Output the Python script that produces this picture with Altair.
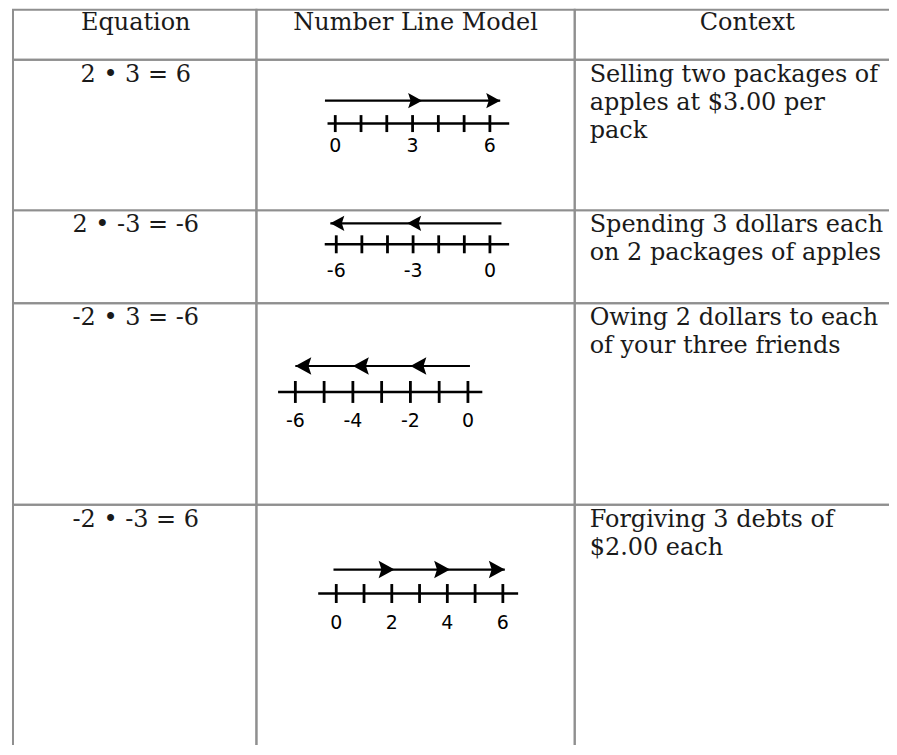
import altair as alt
import pandas as pd

# ---------------- data ----------------
headers = ["Equation", "Number Line Model", "Context"]
equations = ["2 • 3 = 6", "2 • -3 = -6", "-2 • 3 = -6", "-2 • -3 = 6"]
contexts = [
    "Selling two packages of\napples at $3.00 per\npack",
    "Spending 3 dollars each\non 2 packages of apples",
    "Owing 2 dollars to each\nof your three friends",
    "Forgiving 3 debts of\n$2.00 each",
]
tick_start = [0, -6, -6, 0]
tick_end = [6, 0, 0, 6]
tick_labels = [[0, 3, 6], [-6, -3, 0], [-6, -4, -2, 0], [0, 2, 4, 6]]
line_from = [-0.3, -6.45, -6.6, -0.65]
line_to = [6.75, 0.75, 0.5, 6.55]
shaft_from = [-0.4, 0.45, 0.07, -0.1]
shaft_to = [6.4, -6.23, -6.0, 6.07]
arrow_tips = [[3.37, 6.4], [-3.23, -6.23], [-2.0, -4.0, -6.0], [2.1, 4.1, 6.07]]

# ---------------- layout (pixels) ----------------
COL_W = [244, 319, 346]
ROW_H = [50, 151, 93, 202, 296]
NL_FIRST_PX = [79, 80, 39, 80]
NL_UNIT_PX = [25.83, 25.67, 28.83, 27.83]
NL_ARROW_Y = [41, 13, 63, 65]
NL_AXIS_Y = [64, 34, 89, 89]
NL_LABEL_Y = [86, 61, 118, 119]
NL_TICK_HALF = [8.5, 9, 11, 9.5]
NL_HEAD_LEN = [14, 14, 16, 16]

SERIF = "DejaVu Serif"
SANS = "DejaVu Sans"
TXT = "#1a1a1a"
FS = 24

RIGHT_HEAD = "M0,0L-1,-0.55L-0.82,0L-1,0.55Z"
LEFT_HEAD = "M0,0L1,-0.55L0.82,0L1,0.55Z"

TOTAL_W = 4 + sum(COL_W)
TOTAL_H = sum(ROW_H)
PAGE_W, PAGE_H = 881, 735


def text_cell(text, w, h, x, y, align="center"):
    return alt.Chart(pd.DataFrame({"t": [text]})).mark_text(
        align=align, baseline="alphabetic", font=SERIF, fontSize=FS,
        color=TXT, lineBreak="\n", lineHeight=28,
    ).encode(
        text="t:N", x=alt.value(x), y=alt.value(y)
    ).properties(width=w, height=h)


def number_line(i):
    w = COL_W[1]
    h = ROW_H[i + 1]
    lo = tick_start[i] - NL_FIRST_PX[i] / NL_UNIT_PX[i]
    hi = lo + w / NL_UNIT_PX[i]
    xs = alt.Scale(domain=[lo, hi], nice=False, zero=False)

    ticks = pd.DataFrame({"v": list(range(tick_start[i], tick_end[i] + 1))})
    labels = pd.DataFrame({"v": tick_labels[i], "t": [str(v) for v in tick_labels[i]]})
    line = pd.DataFrame({"a": [line_from[i]], "b": [line_to[i]]})
    shaft = pd.DataFrame({"a": [shaft_from[i]], "b": [shaft_to[i]]})
    tips = pd.DataFrame({"v": arrow_tips[i]})

    ay = NL_AXIS_Y[i]
    axis_line = alt.Chart(line).mark_rule(color="black", strokeWidth=2.5).encode(
        x=alt.X("a:Q", scale=xs, axis=None), x2="b:Q", y=alt.value(ay)
    )
    tick_marks = alt.Chart(ticks).mark_rule(color="black", strokeWidth=2.8).encode(
        x=alt.X("v:Q", scale=xs, axis=None),
        y=alt.value(ay - NL_TICK_HALF[i]),
        y2=alt.value(ay + NL_TICK_HALF[i]),
    )
    tick_text = alt.Chart(labels).mark_text(
        font=SANS, fontSize=19, color="black", baseline="middle", align="center"
    ).encode(
        x=alt.X("v:Q", scale=xs, axis=None), y=alt.value(NL_LABEL_Y[i]), text="t:N"
    )
    shaft_line = alt.Chart(shaft).mark_rule(color="black", strokeWidth=2.2).encode(
        x=alt.X("a:Q", scale=xs, axis=None), x2="b:Q", y=alt.value(NL_ARROW_Y[i])
    )
    right = shaft_to[i] > shaft_from[i]
    L = NL_HEAD_LEN[i]
    heads = alt.Chart(tips).mark_point(
        shape=RIGHT_HEAD if right else LEFT_HEAD, filled=True, color="black",
        opacity=1, size=4 * L * L, strokeWidth=0,
    ).encode(
        x=alt.X("v:Q", scale=xs, axis=None), y=alt.value(NL_ARROW_Y[i])
    )
    return alt.layer(axis_line, tick_marks, tick_text, shaft_line, heads).properties(
        width=w, height=h
    )


cells = [
    text_cell(headers[0], COL_W[0], ROW_H[0], COL_W[0] / 2 + 1, 20),
    text_cell(headers[1], COL_W[1], ROW_H[0], COL_W[1] / 2, 20),
    text_cell(headers[2], COL_W[2], ROW_H[0], COL_W[2] / 2, 20),
]
for i in range(4):
    cells.append(text_cell(equations[i], COL_W[0], ROW_H[i + 1], COL_W[0] / 2 + 1, 22))
    cells.append(number_line(i))
    cells.append(text_cell(contexts[i], COL_W[2], ROW_H[i + 1], 15, 22, align="left"))

chart = alt.concat(*cells, columns=3, spacing=0, bounds="flush").properties(
    padding={"left": 4, "top": 0,
             "right": PAGE_W - TOTAL_W, "bottom": PAGE_H - TOTAL_H},
    background="white",
).configure_view(
    stroke="#8f8f8f", strokeWidth=2
)

chart.save("out.html", embed_options={"renderer": "svg", "actions": False})
